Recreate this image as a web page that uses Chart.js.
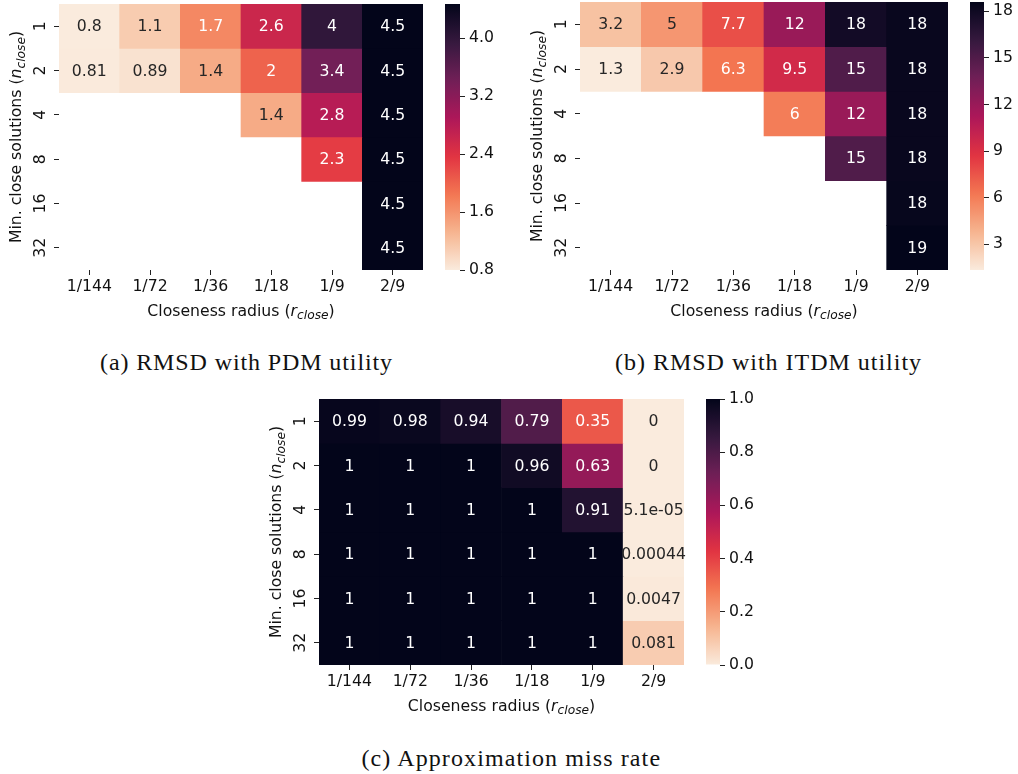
<!DOCTYPE html>
<html>
<head>
<meta charset="utf-8">
<title>RMSD and miss rate heatmaps</title>
<script src="https://cdn.jsdelivr.net/npm/chart.js@4.4.1/dist/chart.umd.min.js"></script>
<style>
  html, body { margin: 0; padding: 0; background: #fff; }
  #fig { position: relative; width: 1018px; height: 774px; overflow: hidden; }
  #fig canvas { position: absolute; }
  .cap { position: absolute; font-family: "Liberation Serif", serif; font-size: 24px; line-height: 24px;
         color: #111; white-space: nowrap; }
</style>
</head>
<body>
<div id="fig">
  <canvas id="hmA" width="430" height="330" style="left:0;top:0"></canvas>
  <canvas id="cbA" width="80" height="330" style="left:430px;top:0"></canvas>
  <canvas id="hmB" width="445" height="330" style="left:510px;top:0"></canvas>
  <canvas id="cbB" width="63" height="330" style="left:955px;top:0"></canvas>
  <canvas id="hmC" width="445" height="345" style="left:250px;top:380px"></canvas>
  <canvas id="cbC" width="80" height="345" style="left:695px;top:380px"></canvas>
  <div class="cap" data-cx="246.5" data-cy="362" data-w="293">(a) RMSD with PDM utility</div>
  <div class="cap" data-cx="768.5" data-cy="362" data-w="307">(b) RMSD with ITDM utility</div>
  <div class="cap" data-cx="512" data-cy="758" data-w="301">(c) Approximation miss rate</div>
</div>
<script>
// axes
const COLS = ['1/144', '1/72', '1/36', '1/18', '1/9', '2/9'];   // closeness radius
const ROWS = ['1', '2', '4', '8', '16', '32'];                   // min. close solutions

// (a) RMSD with PDM utility, rows = ROWS, cols = COLS (null = no cell)
const PDM_RMSD = [
  [0.8,  1.1,  1.7, 2.6, 4.0, 4.47],
  [0.81, 0.89, 1.4, 2.0, 3.4, 4.47],
  [null, null, null, 1.4, 2.8, 4.47],
  [null, null, null, null, 2.3, 4.47],
  [null, null, null, null, null, 4.47],
  [null, null, null, null, null, 4.47],
];
const PDM_TICKS = [0.8, 1.6, 2.4, 3.2, 4.0];

// (b) RMSD with ITDM utility
const ITDM_RMSD = [
  [3.2,  5.0, 7.7, 12,  17.8, 18.3],
  [1.34, 2.9, 6.3, 9.5, 15,   18.3],
  [null, null, null, 6.0, 12, 18.3],
  [null, null, null, null, 15, 18.3],
  [null, null, null, null, null, 18.4],
  [null, null, null, null, null, 18.6],
];
const ITDM_TICKS = [3, 6, 9, 12, 15, 18];

// (c) approximation miss rate
const MISS_RATE = [
  [0.99, 0.98, 0.94, 0.79, 0.35, 0],
  [1,    1,    1,    0.96, 0.63, 0],
  [1,    1,    1,    1,    0.91, 5.1e-5],
  [1,    1,    1,    1,    1,    0.00044],
  [1,    1,    1,    1,    1,    0.0047],
  [1,    1,    1,    1,    1,    0.081],
];
const MISS_TICKS = [0, 0.2, 0.4, 0.6, 0.8, 1.0];

const FS = 15.7;
const FONT = { family: 'DejaVu Sans', size: FS };
const FONT_CSS = `${FS}px "DejaVu Sans"`;

// seaborn rocket_r (light -> dark)
const ROCKET_R = [
  [0, '#faebdd'], [1/7, '#f6b48f'], [2/7, '#f37651'], [3/7, '#e13342'],
  [4/7, '#ad1759'], [5/7, '#701f57'], [6/7, '#35193e'], [1, '#03051a'],
];
const hex2rgb = h => [1, 3, 5].map(i => parseInt(h.substr(i, 2), 16));
function cmap(t){
  t = Math.max(0, Math.min(1, t));
  for (let i = 1; i < ROCKET_R.length; i++){
    const [p1, c1] = ROCKET_R[i];
    if (t <= p1){
      const [p0, c0] = ROCKET_R[i - 1];
      const f = (t - p0) / (p1 - p0);
      const a = hex2rgb(c0), b = hex2rgb(c1);
      return a.map((v, k) => Math.round(v + (b[k] - v) * f));
    }
  }
  return hex2rgb('#03051a');
}
const rgbStr = c => `rgb(${c[0]},${c[1]},${c[2]})`;
function textColor(c){
  const lin = c.map(v => { v /= 255; return v <= 0.03928 ? v / 12.92 : Math.pow((v + 0.055) / 1.055, 2.4); });
  const lum = 0.2126 * lin[0] + 0.7152 * lin[1] + 0.0722 * lin[2];
  return lum > 0.408 ? '#262626' : '#ffffff';
}

// python '.2g'
function fmt2g(v){
  if (v === 0) return '0';
  const exp = parseInt(v.toExponential(1).split('e')[1], 10);
  if (exp < -4 || exp >= 2){
    let m = v.toExponential(1).split('e')[0];
    if (m.includes('.')) m = m.replace(/0+$/, '').replace(/\.$/, '');
    return m + 'e' + (exp < 0 ? '-' : '+') + String(Math.abs(exp)).padStart(2, '0');
  }
  let s = v.toFixed(Math.max(0, 1 - exp));
  if (s.includes('.')) s = s.replace(/0+$/, '').replace(/\.$/, '');
  return s;
}

function range(values){
  const vals = values.flat().filter(v => v != null);
  return [Math.min(...vals), Math.max(...vals)];
}

// text with italic/subscript runs, centred at (0,0) of current transform
function drawRich(ctx, runs){
  const fonts = { n: FONT_CSS, i: `italic ${FS}px "DejaVu Sans"`, s: `italic ${FS * 0.78}px "DejaVu Sans"` };
  let total = 0;
  const w = runs.map(([t, st]) => { ctx.font = fonts[st]; const m = ctx.measureText(t).width; total += m; return m; });
  let x = -total / 2;
  ctx.textAlign = 'left'; ctx.textBaseline = 'alphabetic'; ctx.fillStyle = '#111';
  runs.forEach(([t, st], k) => {
    ctx.font = fonts[st];
    ctx.fillText(t, x, FS * 0.3 + (st === 's' ? FS * 0.22 : 0));
    x += w[k];
  });
}
const X_TITLE = [['Closeness radius (', 'n'], ['r', 'i'], ['close', 's'], [')', 'n']];
const Y_TITLE = [['Min. close solutions (', 'n'], ['n', 'i'], ['close', 's'], [')', 'n']];

// keep chart area where the layout padding says, not where label overhang pushes it
function noPad(s){ s.paddingTop = 0; s.paddingBottom = 0; s.paddingLeft = 0; s.paddingRight = 0; }

function heatmap(id, values, o){
  const [vmin, vmax] = range(values);
  const colors = values.map(row => row.map(v => v == null ? null : cmap((v - vmin) / (vmax - vmin))));
  const datasets = values.map((row, r) => ({
    data: row.map(v => v == null ? null : [r, r + 1]),
    backgroundColor: colors[r].map(c => c ? rgbStr(c) : 'rgba(0,0,0,0)'),
    borderWidth: 0, barPercentage: 1, categoryPercentage: 1, grouped: false,
  }));

  const cellText = {
    id: 'cellText',
    afterDatasetsDraw(chart){
      const ctx = chart.ctx;
      ctx.save();
      ctx.font = FONT_CSS; ctx.textAlign = 'center'; ctx.textBaseline = 'middle';
      values.forEach((row, r) => {
        const meta = chart.getDatasetMeta(r);
        row.forEach((v, c) => {
          if (v == null) return;
          const p = meta.data[c].getProps(['x', 'y', 'base'], true);
          ctx.fillStyle = textColor(colors[r][c]);
          ctx.fillText(fmt2g(v), p.x, (p.y + p.base) / 2 + 1);
        });
      });
      ctx.restore();
    }
  };
  const axisTitles = {
    id: 'axisTitles',
    afterDraw(chart){
      const ctx = chart.ctx, ca = chart.chartArea;
      ctx.save();
      ctx.translate((ca.left + ca.right) / 2, ca.bottom + 41);
      drawRich(ctx, X_TITLE);
      ctx.restore();
      ctx.save();
      ctx.translate(ca.left - 42.5, (ca.top + ca.bottom) / 2);
      ctx.rotate(-Math.PI / 2);
      drawRich(ctx, Y_TITLE);
      ctx.restore();
    }
  };

  return new Chart(document.getElementById(id), {
    type: 'bar',
    data: { labels: COLS, datasets },
    options: {
      responsive: false, animation: false,
      layout: { padding: o.pad },
      plugins: { legend: { display: false }, tooltip: { enabled: false } },
      scales: {
        x: {
          offset: true,
          grid: { offset: false, drawOnChartArea: false, tickLength: 5, tickColor: '#222', lineWidth: 1 },
          border: { display: false },
          ticks: { font: FONT, color: '#111', padding: 3, maxRotation: 0 },
          afterFit: s => { s.height = 60; noPad(s); },
        },
        y: {
          type: 'linear', min: 0, max: 6, reverse: true,
          afterBuildTicks: s => { s.ticks = ROWS.map((_, i) => ({ value: i + 0.5 })); },
          grid: { drawOnChartArea: false, tickLength: 5, tickColor: '#222', lineWidth: 1 },
          border: { display: false },
          ticks: { font: FONT, color: '#111', padding: 3, minRotation: 90, maxRotation: 90, crossAlign: 'center',
                   callback: v => ROWS[Math.floor(v)] },
          afterFit: s => { s.width = o.yWidth; noPad(s); },
        },
      },
    },
    plugins: [cellText, axisTitles],
  });
}

function colorbar(id, values, ticks, dec, o){
  const [vmin, vmax] = range(values);
  const grad = chart => {
    const ca = chart.chartArea;
    if (!ca) return null;
    const g = chart.ctx.createLinearGradient(0, ca.bottom, 0, ca.top);
    for (let i = 0; i <= 40; i++) g.addColorStop(i / 40, rgbStr(cmap(i / 40)));
    return g;
  };
  return new Chart(document.getElementById(id), {
    type: 'bar',
    data: { labels: [''], datasets: [{
      data: [[vmin, vmax]], backgroundColor: c => grad(c.chart),
      borderWidth: 0, barPercentage: 1, categoryPercentage: 1, inflateAmount: 0,
    }] },
    options: {
      responsive: false, animation: false,
      layout: { padding: o.pad },
      plugins: { legend: { display: false }, tooltip: { enabled: false } },
      scales: {
        x: { display: false },
        y: {
          position: 'right', min: vmin, max: vmax,
          afterBuildTicks: s => { s.ticks = ticks.map(v => ({ value: v })); },
          grid: { drawOnChartArea: false, tickLength: 5, tickColor: '#222', lineWidth: 1 },
          border: { display: false },
          ticks: { font: FONT, color: '#111', padding: 4, callback: v => Number(v).toFixed(dec) },
          afterFit: s => { s.width = o.yWidth; noPad(s); },
        },
      },
    },
  });
}

function placeCaptions(){
  const ctx = document.createElement('canvas').getContext('2d');
  document.querySelectorAll('.cap').forEach(el => {
    ctx.font = '24px "Liberation Serif"';
    const txt = el.textContent;
    const nat = ctx.measureText(txt).width;
    const w = +el.dataset.w;
    el.style.letterSpacing = ((w - nat) / txt.length).toFixed(2) + 'px';
    el.style.left = (+el.dataset.cx - w / 2) + 'px';
    el.style.top = (+el.dataset.cy - 12) + 'px';
  });
}

function main(){
  heatmap('hmA', PDM_RMSD, { pad: { left: 0, top: 4, right: 7, bottom: 0 }, yWidth: 59 });
  colorbar('cbA', PDM_RMSD, PDM_TICKS, 1, { pad: { left: 15, top: 4, right: 0, bottom: 60 }, yWidth: 50 });
  heatmap('hmB', ITDM_RMSD, { pad: { left: 0, top: 2, right: 7, bottom: 0 }, yWidth: 70 });
  colorbar('cbB', ITDM_RMSD, ITDM_TICKS, 0, { pad: { left: 15, top: 2, right: 0, bottom: 60 }, yWidth: 34 });
  heatmap('hmC', MISS_RATE, { pad: { left: 0, top: 19, right: 11, bottom: 0 }, yWidth: 69 });
  colorbar('cbC', MISS_RATE, MISS_TICKS, 1, { pad: { left: 11, top: 19, right: 0, bottom: 60 }, yWidth: 55 });
  placeCaptions();
}
document.addEventListener('DOMContentLoaded', main);
</script>
</body>
</html>
